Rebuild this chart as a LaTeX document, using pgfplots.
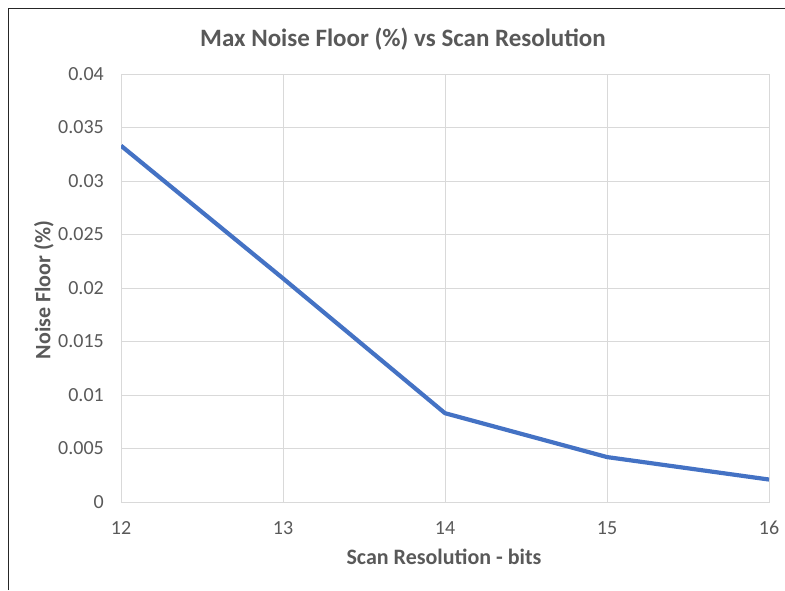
\documentclass[border=0pt]{standalone}
\usepackage{pgfplots}
\pgfplotsset{compat=1.18}
\usepackage{fontspec}
\setmainfont{Carlito}
\definecolor{txt}{HTML}{595959}
\definecolor{grd}{HTML}{D9D9D9}
\definecolor{ln}{HTML}{4472C4}
\begin{document}
\begin{tikzpicture}[x=1pt,y=1pt]
\useasboundingbox (0,0) rectangle (785,-590);
\draw[line width=1.6pt, black!85] (8.5,-590) -- (8.5,-8.5) -- (785,-8.5);
\node[text=txt, font=\fontsize{25}{25}\selectfont\bfseries] at (403,-39) {Max Noise Floor (\%) vs Scan Resolution};
\node[text=txt, font=\fontsize{22}{22}\selectfont\bfseries] at (444,-557) {Scan Resolution - bits};
\node[text=txt, font=\fontsize{22}{22}\selectfont\bfseries, rotate=90] at (44,-290) {Noise Floor (\%)};
\begin{axis}[
  at={(121pt,-502pt)}, anchor=south west,
  scale only axis, width=648pt, height=428pt,
  xmin=12, xmax=16, ymin=0, ymax=0.04,
  xtick={12,13,14,15,16},
  ytick={0,0.005,0.01,0.015,0.02,0.025,0.03,0.035,0.04},
  scaled y ticks=false,
  grid=major,
  major grid style={grd, line width=1pt},
  axis line style={grd, line width=1pt},
  major tick length=0pt,
  tick style={draw=none},
  /pgf/number format/assume math mode=true,
  tick label style={font=\fontsize{20}{20}\selectfont, text=txt},
  yticklabel style={/pgf/number format/fixed, /pgf/number format/precision=3, anchor=east, inner sep=0pt, xshift=-17pt},
  xticklabel style={anchor=north, inner sep=0pt, yshift=-19pt},
]
\addplot[ln, line width=4.2pt, line join=round, no marks] coordinates {
  (12,0.0333) (13,0.0209) (14,0.0083) (15,0.0042) (16,0.0021)
};
\end{axis}
\end{tikzpicture}
\end{document}
